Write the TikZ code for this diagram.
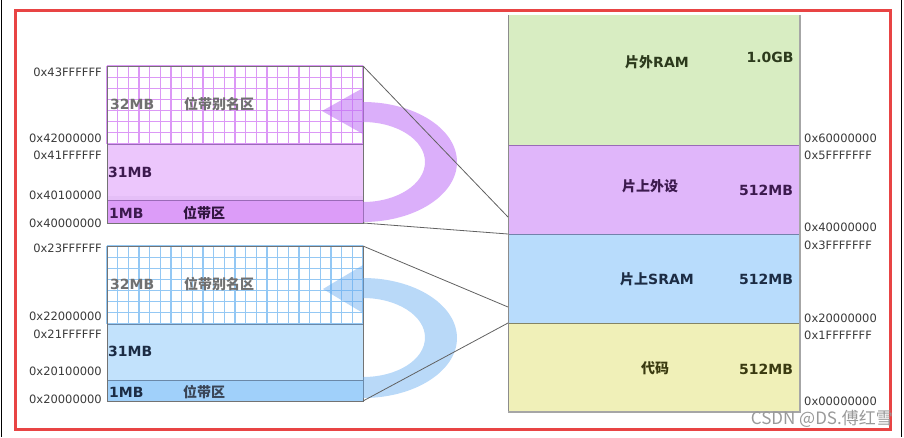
\documentclass[tikz,border=0pt]{standalone}
\usepackage{fontspec}
\setmainfont{DejaVu Sans}
\newfontfamily\cjk{Noto Sans CJK SC}
\usetikzlibrary{calc}
\definecolor{grn}{HTML}{D8EDC2}
\definecolor{pur}{HTML}{E0B6FA}
\definecolor{purL}{HTML}{ECC6FC}
\definecolor{purD}{HTML}{DC9CF8}
\definecolor{purG}{HTML}{DC98F6}
\definecolor{purLine}{HTML}{9A6AB8}
\definecolor{blu}{HTML}{B8DCFC}
\definecolor{bluL}{HTML}{C2E2FC}
\definecolor{bluD}{HTML}{A0D0FA}
\definecolor{bluG}{HTML}{94C8F4}
\definecolor{bluLine}{HTML}{6A88A8}
\definecolor{yel}{HTML}{F0F0B8}
\definecolor{redf}{HTML}{E84444}
\definecolor{txtG}{HTML}{3A3A3A}
\definecolor{txtM}{HTML}{707070}
\definecolor{txtP}{HTML}{3C1A4E}
\definecolor{txtB}{HTML}{1C2C44}
\definecolor{txtGr}{HTML}{2C3A1C}
\definecolor{txtY}{HTML}{3A3A10}
\definecolor{arP}{RGB}{190,110,245}
\definecolor{arB}{RGB}{100,170,240}
\tikzset{
  blk/.style={rectangle, inner sep=0pt, outer sep=0pt, anchor=north west},
  addr/.style={font=\fontsize{11.5}{12}\selectfont, text=txtG, inner sep=0pt},
  lbl/.style={font=\fontsize{14}{15}\selectfont\bfseries, inner sep=0pt},
  conn/.style={draw=black!62, line width=0.8pt},
}
\begin{document}
\begin{tikzpicture}[x=1pt,y=-1pt]
\useasboundingbox (0,0) rectangle (904,437);
% outer frames
\draw[black, line width=1.5pt] (1.5,0) -- (1.5,437);
\draw[black, line width=1.5pt] (901.5,0) -- (901.5,437);
\draw[redf, line width=3pt] (15,10) rectangle (890,429);

% ---------- right column ----------
\node[blk, fill=grn, minimum width=292pt, minimum height=130pt] (ram) at (508,15) {};
\node[blk, fill=pur, minimum width=292pt, minimum height=89pt] (per) at (508,145) {};
\node[blk, fill=blu, minimum width=292pt, minimum height=89pt] (sram) at (508,234) {};
\node[blk, fill=yel, minimum width=292pt, minimum height=89pt] (code) at (508,323) {};
\draw[purLine, line width=1pt] (per.north west) -- (per.north east);
\draw[bluLine!80!purLine, line width=1pt] (sram.north west) -- (sram.north east);
\draw[black!45!yel, line width=1pt] (code.north west) -- (code.north east);
\draw[black!45, line width=0.8pt] (ram.north west) -- (code.south west);
\draw[black!35, line width=2pt] (ram.north east) -- (code.south east) -- (code.south west);

\node[lbl, text=txtGr] (t1) at (657,62) {{\cjk\bfseries 片外}RAM};
\node[lbl, text=txtGr] (s1) at (770,57) {1.0GB};
\node[lbl, text=txtP] (t2) at (650,186) {{\cjk\bfseries 片上外设}};
\node[lbl, text=txtP] (s2) at (766,190) {512MB};
\node[lbl, text=txtB] (t3) at (657,279) {{\cjk\bfseries 片上}SRAM};
\node[lbl, text=txtB] (s3) at (766,279) {512MB};
\node[lbl, text=txtY] (t4) at (655,368) {{\cjk\bfseries 代码}};
\node[lbl, text=txtY] (s4) at (766,369) {512MB};

\node[addr, anchor=west] (r1) at (804,138) {0x60000000};
\node[addr, anchor=west] (r2) at (804,155) {0x5FFFFFFF};
\node[addr, anchor=west] (r3) at (804,227) {0x40000000};
\node[addr, anchor=west] (r4) at (804,245) {0x3FFFFFFF};
\node[addr, anchor=west] (r5) at (804,318) {0x20000000};
\node[addr, anchor=west] (r6) at (804,335) {0x1FFFFFFF};
\node[addr, anchor=west] (r7) at (804,401) {0x00000000};

% ---------- top (peripheral) block ----------
\node[blk, fill=white, minimum width=256pt, minimum height=78pt] (pa) at (107,66) {};
\foreach \i in {0,...,24} {\draw[purG, line width=1.1pt] (107+\i*10.667,66) -- (107+\i*10.667,144);}
\foreach \j in {0,...,7} {\draw[purG, line width=1.1pt] (107,66+\j*11.143) -- (363,66+\j*11.143);}
\node[blk, fill=purL, minimum width=256pt, minimum height=56pt] (pb) at (107,144) {};
\fill[purL!92!purLine] (107,196) rectangle (363,200);
\node[blk, fill=purD, minimum width=256pt, minimum height=23pt] (pc) at (107,200) {};
\draw[purLine, line width=0.8pt] (pb.north west) -- (pb.north east);
\draw[purLine, line width=0.8pt] (pc.north west) -- (pc.north east);
\draw[black!55, line width=0.8pt] (pa.north west) rectangle (pc.south east);

\node[lbl, text=txtM, anchor=west] (pa1) at (110,104) {32MB};
\node[lbl, text=txtM, anchor=west] (pa2) at (184,104) {{\cjk\bfseries 位带别名区}};
\node[lbl, text=txtP, anchor=west] (pb1) at (108,172) {31MB};
\node[lbl, text=txtP, anchor=west] (pc1) at (109,213) {1MB};
\node[lbl, text=txtP!80!black, anchor=west] (pc2) at (183,213) {{\cjk\bfseries 位带区}};

\node[addr, anchor=east] (la1) at (102,72) {0x43FFFFFF};
\node[addr, anchor=east] (la2) at (102,138) {0x42000000};
\node[addr, anchor=east] (la3) at (102,155) {0x41FFFFFF};
\node[addr, anchor=east] (la4) at (102,195) {0x40100000};
\node[addr, anchor=east] (la5) at (102,223) {0x40000000};

% ---------- bottom (SRAM) block ----------
\node[blk, fill=white, minimum width=256pt, minimum height=78pt] (ba) at (107,246) {};
\foreach \i in {0,...,24} {\draw[bluG, line width=1.1pt] (107+\i*10.667,246) -- (107+\i*10.667,324);}
\foreach \j in {0,...,7} {\draw[bluG, line width=1.1pt] (107,246+\j*11.143) -- (363,246+\j*11.143);}
\node[blk, fill=bluL, minimum width=256pt, minimum height=56pt] (bb) at (107,324) {};
\node[blk, fill=bluD, minimum width=256pt, minimum height=21pt] (bc) at (107,380) {};
\draw[bluLine, line width=0.8pt] (bb.north west) -- (bb.north east);
\draw[bluLine, line width=0.8pt] (bc.north west) -- (bc.north east);
\draw[black!55, line width=0.8pt] (ba.north west) rectangle (bc.south east);

\node[lbl, text=txtM, anchor=west] (ba1) at (110,284) {32MB};
\node[lbl, text=txtM, anchor=west] (ba2) at (184,284) {{\cjk\bfseries 位带别名区}};
\node[lbl, text=txtB, anchor=west] (bb1) at (108,351) {31MB};
\node[lbl, text=txtB, anchor=west] (bc1) at (109,392) {1MB};
\node[lbl, text=txtB!70!gray, anchor=west] (bc2) at (183,392) {{\cjk\bfseries 位带区}};

\node[addr, anchor=east] (lb1) at (102,248) {0x23FFFFFF};
\node[addr, anchor=east] (lb2) at (102,316) {0x22000000};
\node[addr, anchor=east] (lb3) at (102,334) {0x21FFFFFF};
\node[addr, anchor=east] (lb4) at (102,371) {0x20100000};
\node[addr, anchor=east] (lb5) at (102,399) {0x20000000};

% ---------- curved arrows ----------
\fill[arP, fill opacity=0.55]
  (363,102) .. controls (414.9,102) and (457,128.9) .. (457,162)
  .. controls (457,195.1) and (414.9,222) .. (363,222)
  -- (363,202) .. controls (397.2,202) and (425,184.1) .. (425,162)
  .. controls (425,139.9) and (397.2,122) .. (363,122) -- cycle;
\fill[arP, fill opacity=0.55] (363,88) -- (322,111) -- (363,134) -- cycle;

\fill[arB, fill opacity=0.45]
  (363,278) .. controls (414.9,278) and (457,304.9) .. (457,338)
  .. controls (457,371.1) and (414.9,398) .. (363,398)
  -- (363,377) .. controls (397.2,377) and (425,359.8) .. (425,337.5)
  .. controls (425,315.7) and (397.2,298) .. (363,298) -- cycle;
\fill[arB, fill opacity=0.45] (363,265) -- (323,289) -- (363,313) -- cycle;

% ---------- connectors ----------
\coordinate (pe1) at (508,217);
\coordinate (se1) at (508,307);
\draw[conn] (pa.north east) -- (pe1);
\draw[conn] (pc.south east) -- (per.south west);
\draw[conn] (ba.north east) -- (se1);
\draw[conn] (bc.south east) -- (sram.south west);

% watermark
\node[font=\cjk\fontsize{17}{18}\selectfont, text=black!40, inner sep=0pt, anchor=east] (wm) at (893,419) {CSDN @DS.傅红雪};
\end{tikzpicture}
\end{document}
